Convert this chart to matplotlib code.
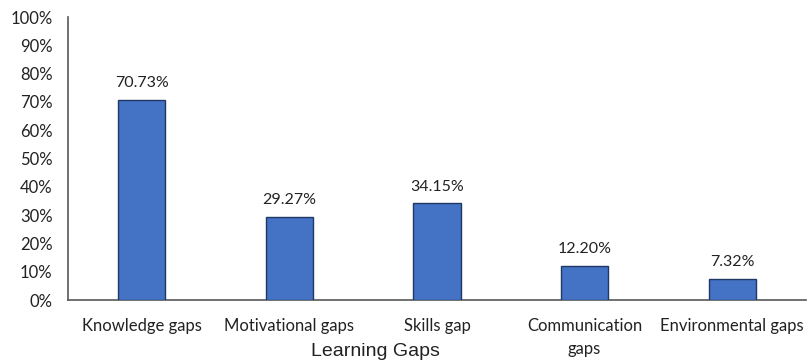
import matplotlib
matplotlib.use('Agg')
from matplotlib import pyplot as plt
from matplotlib.ticker import PercentFormatter
import numpy as np

# Data
categories = ['Knowledge gaps', 'Motivational gaps', 'Skills gap', 'Communication\ngaps', 'Environmental gaps']
values = [70.73, 29.27, 34.15, 12.20, 7.32]
value_labels = ['70.73%', '29.27%', '34.15%', '12.20%', '7.32%']

plt.rcParams['font.family'] = ['Lato', 'DejaVu Sans']

fig = plt.figure(figsize=(8.09, 3.62), dpi=100)
ax = fig.add_axes([0.084, 0.171, 0.9123, 0.782])

x = np.arange(len(categories))
bars = ax.bar(x, values, width=0.32, color='#4472C4', edgecolor='#1F3864', linewidth=1.0, zorder=3)

for b, lab in zip(bars, value_labels):
    ax.text(b.get_x() + b.get_width() / 2, b.get_height() + 3.5, lab,
            ha='center', va='bottom', fontsize=11.5, color='#222222')

ax.set_xlim(-0.5, len(categories) - 0.5)
ax.set_ylim(0, 100)
ax.set_yticks(np.arange(0, 101, 10))
ax.yaxis.set_major_formatter(PercentFormatter(decimals=0))
ax.set_xticks(x)
ax.set_xticklabels(categories, fontsize=12, color='#222222', linespacing=1.55)
ax.tick_params(axis='both', length=0, labelsize=12, colors='#222222')
ax.tick_params(axis='x', pad=13)
ax.tick_params(axis='y', pad=11)

for s in ['top', 'right']:
    ax.spines[s].set_visible(False)
for s in ['left', 'bottom']:
    ax.spines[s].set_color('#595959')
    ax.spines[s].set_linewidth(1.2)

fig.text(375 / 809, 1 - 352 / 362, 'Learning Gaps', ha='center', va='center',
         fontsize=14, family='Liberation Sans', color='#222222')

fig.savefig('out.png', dpi=100)
